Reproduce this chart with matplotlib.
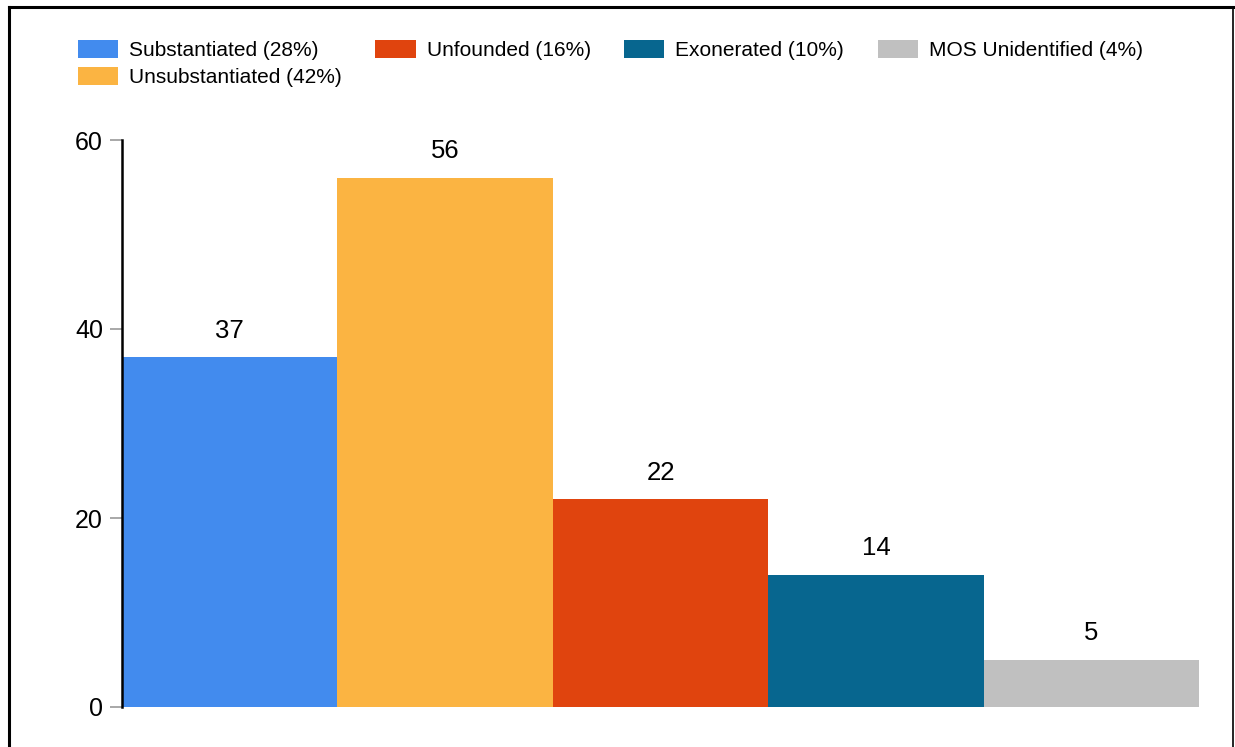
import matplotlib
matplotlib.use('Agg')
import matplotlib.pyplot as plt
from matplotlib.patches import Patch
from matplotlib.lines import Line2D

plt.rcParams['font.family'] = ['Liberation Sans', 'DejaVu Sans']

# data
labels = ['Substantiated (28%)', 'Unsubstantiated (42%)', 'Unfounded (16%)',
          'Exonerated (10%)', 'MOS Unidentified (4%)']
counts = [37, 56, 22, 14, 5]
colors = ['#428BEE', '#FBB442', '#E0440E', '#07668F', '#C0C0C0']
yticks = [0, 20, 40, 60]

W, H = 1235, 747
fig = plt.figure(figsize=(W / 100, H / 100), dpi=100)

# axes placed in pixels: x 122..1199, y 140..707
ax = fig.add_axes([122 / W, (H - 707) / H, (1199 - 122) / W, (707 - 140) / H])

xs = list(range(len(counts)))
bars = ax.bar(xs, counts, width=1.0, align='edge', color=colors, linewidth=0)

for x, v in zip(xs, counts):
    ax.annotate(str(v), (x + 0.5, v), xytext=(0, 14), textcoords='offset points',
                ha='center', va='baseline', fontsize=18.5, color='black')

ax.set_xlim(0, len(counts))
ax.set_ylim(0, 60)
ax.set_yticks(yticks)
ax.set_xticks([])
ax.tick_params(axis='y', length=8.6, width=1.2, color='#999999', pad=5,
               labelsize=18, labelcolor='black')
for s in ['top', 'right', 'bottom']:
    ax.spines[s].set_visible(False)
ax.spines['left'].set_linewidth(1.8)
ax.spines['left'].set_color('black')

# legend, laid out like the original (4 columns, first column holds two)
handles = [Patch(facecolor=c, edgecolor='none') for c in colors]
leg = fig.legend(handles, labels, ncol=4, loc='upper left',
                 bbox_to_anchor=(74 / W, 1 - 36 / H), frameon=False,
                 fontsize=15, handlelength=1.93, handleheight=0.92,
                 handletextpad=0.53, columnspacing=1.6, labelspacing=0.35,
                 borderpad=0.2, borderaxespad=0)

# outer frame (bottom edge cut off in the original)
fig.add_artist(Line2D([8.5 / W, 8.5 / W], [0, 1 - 6.5 / H], transform=fig.transFigure,
                      color='black', linewidth=2.2))
fig.add_artist(Line2D([8.5 / W, 1233 / W], [1 - 6.5 / H, 1 - 6.5 / H],
                      transform=fig.transFigure, color='black', linewidth=2.2))
fig.add_artist(Line2D([1233 / W, 1233 / W], [0, 1 - 6.5 / H], transform=fig.transFigure,
                      color='black', linewidth=1.2))

fig.savefig('out.png', dpi=100)
